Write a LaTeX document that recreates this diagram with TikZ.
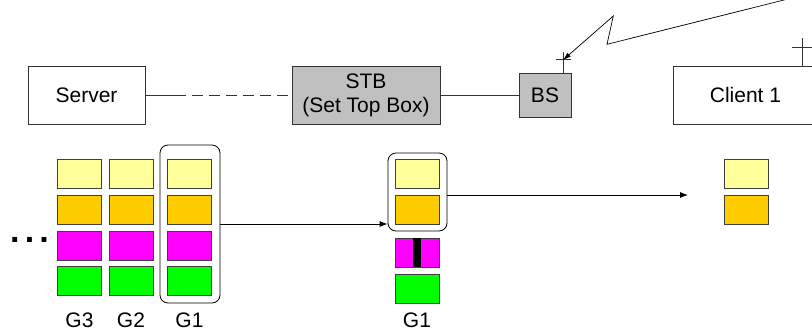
\documentclass[tikz,border=0pt]{standalone}
\usepackage{fontspec}
\setmainfont{Liberation Sans}
\usetikzlibrary{arrows.meta}
\definecolor{boxgray}{HTML}{C0C0C0}
\definecolor{pyellow}{HTML}{FFFF99}
\definecolor{porange}{HTML}{FFCC00}
\definecolor{pmagenta}{HTML}{FF00FF}
\definecolor{pgreen}{HTML}{00FF00}
\tikzset{
  unit/.style={draw=black!80, line width=0.7pt, minimum width=117pt, minimum height=58pt,
               inner sep=0pt, align=center, font=\fontsize{21}{24}\selectfont},
  grey/.style={unit, fill=boxgray},
  blk/.style={draw=black!75, line width=0.8pt, minimum width=44pt, minimum height=29pt, inner sep=0pt},
  grp/.style={draw=black, line width=0.8pt, rounded corners=8pt, inner sep=0pt},
  lbl/.style={font=\fontsize{21}{24}\selectfont, inner sep=0pt},
  link/.style={draw=black!80, line width=0.8pt},
  flow/.style={draw=black, line width=0.8pt, -{Latex[length=8pt,width=6pt]}},
}
\begin{document}
\begin{tikzpicture}[x=1pt,y=-1pt]
\useasboundingbox (0,0) rectangle (812,335);
\clip (0,0) rectangle (812,335);

% network units
\node[unit] (server) at (86.5,95) {Server};
\node[grey, minimum width=148pt] (stb) at (366,95) {STB\\(Set Top Box)};
\node[grey, minimum width=52pt, minimum height=44pt] (bs) at (545,95) {BS};
\node[unit, minimum width=145pt] (client) at (745.5,95) {Client 1};

% server to STB: short solid stub, then dashed
\coordinate (dstart) at (175,95);
\draw[link] (server.east) -- (dstart);
\draw[link, dash pattern=on 11pt off 6pt] (dstart) -- (stb.west);
\draw[link] (stb.east) -- (bs.west);

% antennas
\coordinate (bsant) at (563,52);
\coordinate (bstip) at (563,60);
\draw[link] (bs.north -| bsant) -- (bsant);
\draw[link] (556,59) -- (571,59);
\coordinate (clant) at (802,38);
\draw[link] (client.north -| clant) -- (clant);
\draw[link] (792,47) -- (814,47);

% radio link (lightning)
\coordinate (z0) at (792,-2);
\coordinate (z1) at (607,44.3);
\coordinate (z2) at (613.3,16);
\draw[black, line width=0.7pt, -{Latex[length=8pt,width=5pt]}] (z0) -- (z1) -- (z2) -- (bstip);

% source queue G3 G2 G1
\foreach \c/\x in {3/79.5, 2/131, 1/189.5}{
  \node[blk, fill=pyellow]  (s\c a) at (\x,173.5) {};
  \node[blk, fill=porange]  (s\c b) at (\x,209.5) {};
  \node[blk, fill=pmagenta] (s\c c) at (\x,245.5) {};
  \node[blk, fill=pgreen]   (s\c d) at (\x,280.5) {};
}
\node[lbl] (g3) at (79.5,320) {G3};
\node[lbl] (g2) at (131,320) {G2};
\node[lbl] (g1) at (189.5,320) {G1};
\node[font=\bfseries\fontsize{34}{36}\selectfont, inner sep=0pt] (dots) at (29.5,239.5)
  {.\hspace{5.2pt}.\hspace{5.2pt}.};
\node[grp, minimum width=60pt, minimum height=158pt] (grpA) at (190,224) {};

% at the STB
\node[blk, fill=pyellow]  (ma) at (417,173.5) {};
\node[blk, fill=porange]  (mb) at (417,209.5) {};
\node[blk, fill=pmagenta] (mc) at (417,252.5) {};
\fill[black] (mc.north) ++(-4,0) rectangle ([xshift=4pt]mc.south);
\node[blk, fill=pgreen]   (md) at (417,288.5) {};
\node[lbl] (gm) at (417,320) {G1};
\node[grp, minimum width=59pt, minimum height=78pt] (grpB) at (417.5,192) {};

% at the client
\node[blk, fill=pyellow] (ca) at (746.5,173.5) {};
\node[blk, fill=porange] (cb) at (746.5,209.5) {};

% transfers
\draw[flow] (grpA.east) -- (grpA.east -| grpB.west);
\coordinate (cend) at (688,195);
\draw[flow] (grpB.east |- cend) -- (cend);
\end{tikzpicture}
\end{document}
